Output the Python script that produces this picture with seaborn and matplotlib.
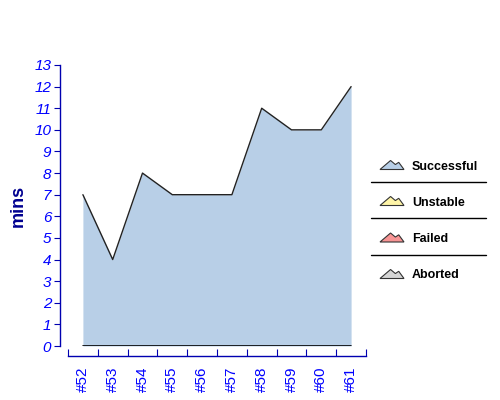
import matplotlib
matplotlib.use("Agg")
import matplotlib.pyplot as plt
from matplotlib.patches import Polygon
from matplotlib.lines import Line2D
import seaborn as sns
import numpy as np
import pandas as pd

builds = ["#52", "#53", "#54", "#55", "#56", "#57", "#58", "#59", "#60", "#61"]
durations = [7, 4, 8, 7, 7, 7, 11, 10, 10, 12]
legend_labels = ["Successful", "Unstable", "Failed", "Aborted"]
legend_colors = ["#B8CFE7", "#FEF4A7", "#F79494", "#D5D5D5"]
y_ticks = list(range(0, 14))

sns.set_style("white")
plt.rcParams['font.family'] = ['Liberation Sans', 'DejaVu Sans']

df = pd.DataFrame({"pos": np.arange(len(builds)), "mins": durations})

fig = plt.figure(figsize=(5, 4), dpi=100)
ax = fig.add_axes([68/500, 1-346/400, 298/500, (346-65)/400])

ax.fill_between(df["pos"], 0, df["mins"], color=legend_colors[0], linewidth=0)
sns.lineplot(data=df, x="pos", y="mins", ax=ax, color="#222222", linewidth=1.0)
ax.plot([df["pos"].iloc[0], df["pos"].iloc[-1]], [0, 0], color="black", linewidth=1.2)

ax.set_xlim(-0.5, len(builds) - 0.5)
ax.set_ylim(0, 13)

axis_blue = "#0000B0"
for s in ["top", "right"]:
    ax.spines[s].set_visible(False)
ax.spines["left"].set_position(("outward", 6))
ax.spines["bottom"].set_position(("outward", 7))
ax.spines["left"].set_color(axis_blue)
ax.spines["bottom"].set_color(axis_blue)
ax.spines["left"].set_linewidth(1.0)
ax.spines["bottom"].set_linewidth(1.0)

ax.set_yticks(y_ticks)
ax.set_yticklabels([str(t) for t in y_ticks], fontstyle="italic", color="#0000FF", fontsize=11)
ax.tick_params(axis="y", direction="out", length=4, width=0.8, color=axis_blue, pad=2, left=True)

ax.set_xticks(df["pos"])
ax.set_xticklabels(builds, rotation=90, color="#0000FF", fontsize=11)
ax.tick_params(axis="x", which="major", length=0, pad=8, bottom=True)
ax.set_xticks(np.arange(-0.5, len(builds)), minor=True)
ax.tick_params(axis="x", which="minor", direction="in", length=5, width=0.8, color=axis_blue, bottom=True)

ax.set_xlabel("")
ax.set_ylabel("mins", fontsize=13, fontweight="bold", color="#000090")
ax.yaxis.set_label_coords((18 - 68) / 298, 0.5)
ax.yaxis.label.set_va("center")
ax.grid(False)

# Legend
line_x0, line_x1 = 371/500, 486/500
text_ys = [166.5, 202.5, 239, 275.5]
sep_ys = [181.5, 218, 254.5]
for y in sep_ys:
    fig.add_artist(Line2D([line_x0, line_x1], [1 - y/400, 1 - y/400], color="black", linewidth=1.0))
shape = np.array([(0, 0), (0.44, 1), (0.64, 0.55), (0.78, 0.8), (1, 0)])
for lbl, col, ty in zip(legend_labels, legend_colors, text_ys):
    pts = shape.copy()
    px = 380 + pts[:, 0] * 24
    py = (ty + 3) - pts[:, 1] * 9
    poly = Polygon(np.column_stack([px/500, 1 - py/400]), closed=True, facecolor=col,
                   edgecolor="#333333", linewidth=0.8, transform=fig.transFigure)
    fig.add_artist(poly)
    fig.text(412/500, 1 - ty/400, lbl, fontsize=9, fontweight="bold", color="black",
             ha="left", va="center")

fig.savefig("out.png", dpi=100)
